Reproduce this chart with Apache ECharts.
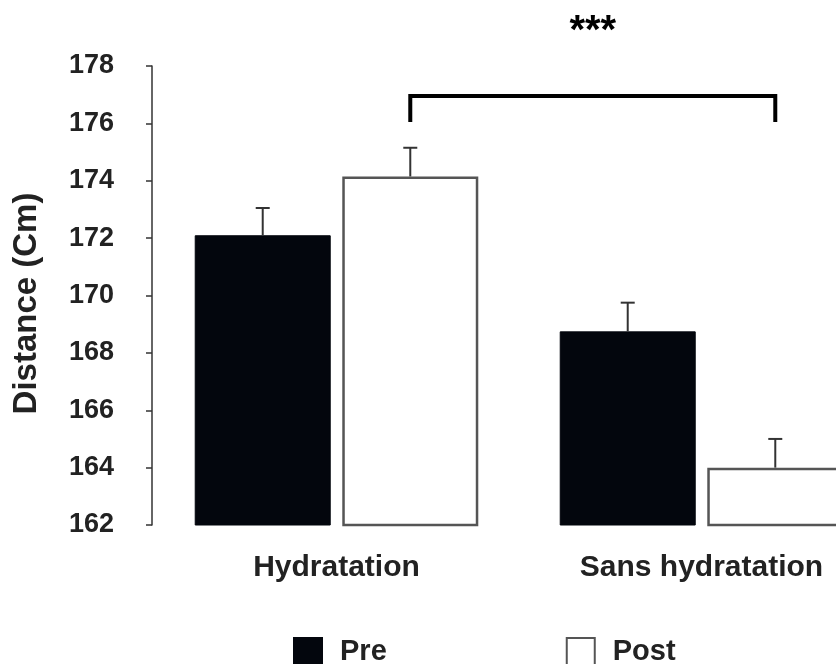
<!DOCTYPE html>
<html>
<head>
<meta charset="utf-8">
<script src="https://cdn.jsdelivr.net/npm/echarts@6/dist/echarts.min.js"></script>
<style>
  html, body { margin: 0; padding: 0; background: #fff; }
  #chart { width: 836px; height: 664px; }
</style>
</head>
<body>
<div id="chart"></div>
<script>
// Groups and measured means / SEM (cm)
const categories = ['Hydratation', 'Sans hydratation'];
const preValues = [172.1, 168.75];
const postValues = [174.15, 164.0];
const preErrors = [0.95, 1.0];
const postErrors = [1.0, 1.0];
const yTicks = { min: 162, max: 178, step: 2 };
// Significance bracket between the two Post bars
const bracket = { from: 0, to: 1, low: 176.05, high: 176.95, label: '***', labelValue: 179.2 };

const FONT = '"Liberation Sans", Arial, sans-serif';
const BAR_WIDTH = 136;
const BAR_GAP = 0.085;
const barOffset = (BAR_WIDTH + BAR_WIDTH * BAR_GAP) / 2;

function errorSeries(name, values, errors, offset) {
  return {
    type: 'custom',
    name: name,
    silent: true,
    z: 5,
    clip: false,
    data: values.map((v, i) => [i, v, errors[i]]),
    renderItem: function (params, api) {
      const base = api.coord([api.value(0), api.value(1)]);
      const tip = api.coord([api.value(0), api.value(1) + api.value(2)]);
      const x = base[0] + offset;
      const style = { stroke: '#333', lineWidth: 2 };
      return {
        type: 'group',
        children: [
          { type: 'line', shape: { x1: x, y1: base[1], x2: x, y2: tip[1] }, style: style },
          { type: 'line', shape: { x1: x - 7, y1: tip[1], x2: x + 7, y2: tip[1] }, style: style }
        ]
      };
    }
  };
}

const chart = echarts.init(document.getElementById('chart'), null, { renderer: 'canvas' });
chart.setOption({
  animation: false,
  backgroundColor: '#fff',
  grid: { left: 154, top: 66, right: -48, height: 459, containLabel: false, outerBoundsMode: 'none' },
  legend: {
    data: ['Pre', 'Post'],
    left: 293,
    top: 637,
    padding: 0,
    icon: 'rect',
    itemWidth: 28,
    itemHeight: 28,
    itemGap: 179,
    textStyle: { fontFamily: FONT, fontWeight: 'bold', fontSize: 29, color: '#222', padding: [0, 0, 0, 13] }
  },
  xAxis: {
    type: 'category',
    data: categories,
    axisLine: { show: false },
    axisTick: { show: false },
    axisLabel: { fontFamily: FONT, fontWeight: 'bold', fontSize: 30, color: '#222', margin: 28 }
  },
  yAxis: {
    type: 'value',
    offset: 2,
    min: yTicks.min,
    max: yTicks.max,
    interval: yTicks.step,
    name: 'Distance (Cm)',
    nameLocation: 'middle',
    nameGap: 109,
    nameTextStyle: { fontFamily: FONT, fontWeight: 'bold', fontSize: 33, color: '#222', padding: [0, 16, 0, 0] },
    axisLine: { show: true, lineStyle: { color: '#333', width: 1.5 } },
    axisTick: { show: true, length: 6, inside: false, lineStyle: { color: '#333', width: 1.5 } },
    splitLine: { show: false },
    axisLabel: { fontFamily: FONT, fontWeight: 'bold', fontSize: 27, color: '#222', margin: 38 }
  },
  series: [
    {
      name: 'Pre',
      type: 'bar',
      barWidth: BAR_WIDTH,
      barGap: (BAR_GAP * 100) + '%',
      data: preValues,
      itemStyle: { color: '#03060d', borderColor: '#03060d', borderWidth: 1 }
    },
    {
      name: 'Post',
      type: 'bar',
      barWidth: BAR_WIDTH,
      data: postValues,
      itemStyle: { color: '#ffffff', borderColor: '#555', borderWidth: 2.5 }
    },
    errorSeries('preErr', preValues, preErrors, -barOffset),
    errorSeries('postErr', postValues, postErrors, barOffset),
    {
      type: 'custom',
      name: 'signif',
      silent: true,
      clip: false,
      z: 6,
      data: [[bracket.from, bracket.to, bracket.low, bracket.high, bracket.labelValue]],
      renderItem: function (params, api) {
        const a = api.coord([api.value(0), api.value(2)]);
        const b = api.coord([api.value(1), api.value(3)]);
        const t = api.coord([api.value(0), api.value(4)]);
        const x1 = a[0] + barOffset;
        const x2 = b[0] + barOffset;
        return {
          type: 'group',
          children: [
            {
              type: 'polyline',
              shape: { points: [[x1, a[1]], [x1, b[1]], [x2, b[1]], [x2, a[1]]] },
              style: { stroke: '#000', lineWidth: 4, fill: null, lineJoin: 'miter' }
            },
            {
              type: 'text',
              style: {
                text: bracket.label,
                x: (x1 + x2) / 2,
                y: t[1],
                align: 'center',
                verticalAlign: 'middle',
                font: 'bold 40px ' + FONT,
                fill: '#000'
              }
            }
          ]
        };
      }
    }
  ]
});
</script>
</body>
</html>
